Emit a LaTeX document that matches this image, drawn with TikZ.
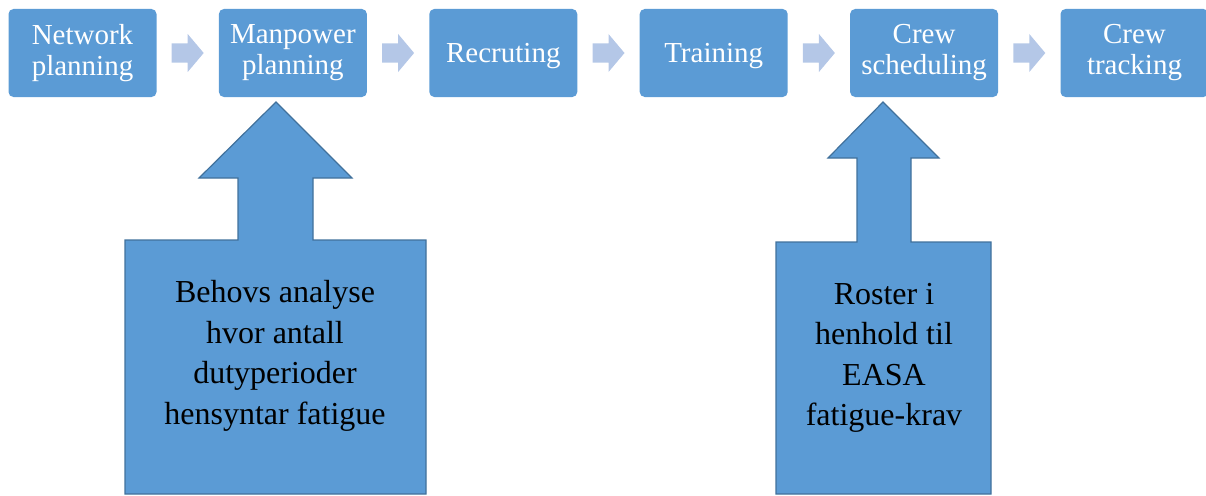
\documentclass[tikz,border=0pt]{standalone}
\usepackage{fontspec}
\setmainfont{Liberation Serif}
\usepackage{xcolor}
\usetikzlibrary{positioning}
\usetikzlibrary{calc}
\definecolor{boxblue}{RGB}{91,155,213}
\definecolor{edgeblue}{RGB}{65,113,156}
\definecolor{paleblue}{RGB}{180,199,231}
\tikzset{
    stage/.style = {align=center, inner sep=0pt, rectangle, rounded corners=5pt, fill=boxblue, text=white,
                    minimum width=148pt, minimum height=88pt, font=\fontsize{29}{31}\selectfont,
                    execute at begin node=\rule{0pt}{25.8pt}, execute at end node=\rule[-6.3pt]{0pt}{6.3pt}},
    chevron/.style = {fill=paleblue, draw=none},
    upshape/.style = {fill=boxblue, draw=edgeblue, line width=1.2pt, line join=miter},
    uptext/.style = {align=center, inner sep=0pt, text=black, font=\fontsize{32}{40.5}\selectfont,
                    execute at begin node=\rule{0pt}{28.5pt}, execute at end node=\rule[-6.9pt]{0pt}{6.9pt}}
}

\begin{document}
\begin{tikzpicture}[x=1pt, y=-1pt]
            \useasboundingbox (0,0) rectangle (1206,495);

            % process chain
            \node [stage] (net) at (82.5,53) {Network\\planning};
            \node [stage, right=62pt of net] (man) {Manpower\\planning};
            \node [stage, right=62pt of man] (rec) {Recruting};
            \node [stage, right=62pt of rec] (tra) {Training};
            \node [stage, right=62pt of tra] (sch) {Crew\\scheduling};
            \node [stage, right=62pt of sch] (trk) {Crew\\tracking};

            \foreach \a/\b in {net/man, man/rec, rec/tra, tra/sch, sch/trk}
                \fill [chevron] ($(\a.east)!0.5!(\b.west)$)
                    +(-16,-9.5) -- +(0,-9.5) -- +(0,-19) -- +(16,0)
                    -- +(0,19) -- +(0,9.5) -- +(-16,9.5) -- cycle;

            % input arrows
            \draw [upshape] (125,494) -- (125,240) -- (238,240) -- (238,178) -- (199,178)
                -- (276,102) -- (352,178) -- (313,178) -- (313,240) -- (426,240) -- (426,494) -- cycle;
            \draw [upshape] (776,494) -- (776,242) -- (857,242) -- (857,158) -- (828,158)
                -- (883,102) -- (939,158) -- (911,158) -- (911,242) -- (991,242) -- (991,494) -- cycle;

            \node [uptext] (need) at (275,356) {Behovs analyse\\hvor antall\\dutyperioder\\hensyntar fatigue};
            \node [uptext] (roster) at (884,358) {Roster i\\henhold til\\EASA\\fatigue-krav};
\end{tikzpicture}
\end{document}
